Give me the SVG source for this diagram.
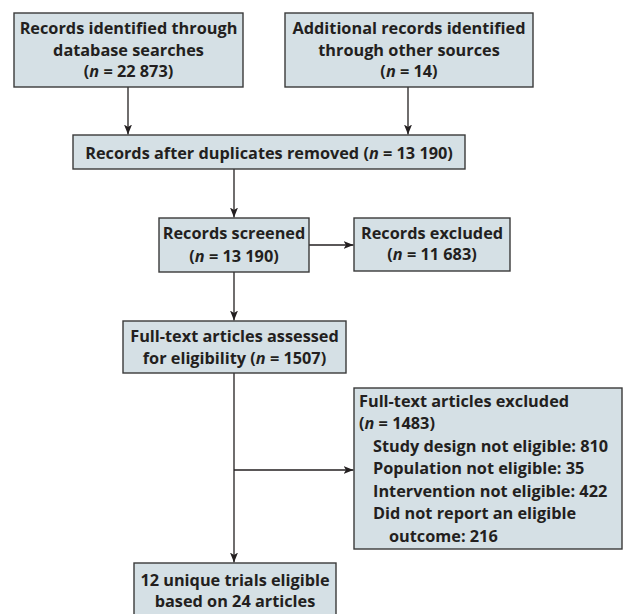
<svg xmlns="http://www.w3.org/2000/svg" width="630" height="614" viewBox="0 0 630 614">
<defs>
<style>
.box{fill:#d5e0e5;stroke:#3a3a3a;stroke-width:1.4}
.t{font-family:"Open Sans","Liberation Sans",sans-serif;font-weight:bold;font-size:16.3px;fill:#231f20}
.c{text-anchor:middle}
.i{font-style:italic}
.ln{stroke:#231f20;stroke-width:1.3;fill:none}
</style>
<marker id="ah" viewBox="0 0 10 8" refX="10" refY="4" markerWidth="10" markerHeight="8" markerUnits="userSpaceOnUse" orient="auto">
<path d="M0,0 L10,4 L0,8 L2.5,4 z" fill="#231f20"/>
</marker>
</defs>
<rect width="630" height="614" fill="#ffffff"/>
<g id="connectors">
<line class="ln" x1="128" y1="87" x2="128" y2="134.5" marker-end="url(#ah)"/>
<line class="ln" x1="408" y1="87" x2="408" y2="134.5" marker-end="url(#ah)"/>
<line class="ln" x1="234" y1="169" x2="234" y2="217.5" marker-end="url(#ah)"/>
<line class="ln" x1="309" y1="245" x2="353.5" y2="245" marker-end="url(#ah)"/>
<line class="ln" x1="234" y1="272" x2="234" y2="320.5" marker-end="url(#ah)"/>
<line class="ln" x1="234" y1="373" x2="234" y2="562.5" marker-end="url(#ah)"/>
<line class="ln" x1="234" y1="470" x2="353.5" y2="470" marker-end="url(#ah)"/>
</g>
<g id="n1">
<rect class="box" x="14" y="13" width="229" height="74"/>
<text class="t c" x="128.5" y="34">Records identified through</text>
<text class="t c" x="128.5" y="55.5">database searches</text>
<text class="t c" x="128.5" y="77">(<tspan class="i">n</tspan> = 22 873)</text>
</g>
<g id="n2">
<rect class="box" x="285" y="13" width="248" height="74"/>
<text class="t c" x="409" y="34">Additional records identified</text>
<text class="t c" x="409" y="55.5">through other sources</text>
<text class="t c" x="409" y="77">(<tspan class="i">n</tspan> = 14)</text>
</g>
<g id="n3">
<rect class="box" x="73" y="135" width="392" height="34"/>
<text class="t c" x="269" y="158.5">Records after duplicates removed (<tspan class="i">n</tspan> = 13 190)</text>
</g>
<g id="n4">
<rect class="box" x="159" y="218" width="150" height="54"/>
<text class="t c" x="234" y="238.5">Records screened</text>
<text class="t c" x="234" y="262">(<tspan class="i">n</tspan> = 13 190)</text>
</g>
<g id="n5">
<rect class="box" x="354" y="218" width="156" height="53"/>
<text class="t c" x="432" y="238.5">Records excluded</text>
<text class="t c" x="432" y="260">(<tspan class="i">n</tspan> = 11 683)</text>
</g>
<g id="n6">
<rect class="box" x="123" y="321" width="223" height="52"/>
<text class="t c" x="234.5" y="342">Full-text articles assessed</text>
<text class="t c" x="234.5" y="363.5">for eligibility (<tspan class="i">n</tspan> = 1507)</text>
</g>
<g id="n7">
<rect class="box" x="354" y="388" width="268" height="161"/>
<text class="t" x="359" y="406.5">Full-text articles excluded</text>
<text class="t" x="359" y="429">(<tspan class="i">n</tspan> = 1483)</text>
<text class="t" x="373" y="451.5">Study design not eligible: 810</text>
<text class="t" x="373" y="474">Population not eligible: 35</text>
<text class="t" x="373" y="496.5">Intervention not eligible: 422</text>
<text class="t" x="373" y="519">Did not report an eligible</text>
<text class="t" x="389" y="541.5">outcome: 216</text>
</g>
<g id="n8">
<rect class="box" x="134" y="563" width="202" height="60"/>
<text class="t c" x="235" y="585.5">12 unique trials eligible</text>
<text class="t c" x="235" y="606.5">based on 24 articles</text>
</g>
</svg>
